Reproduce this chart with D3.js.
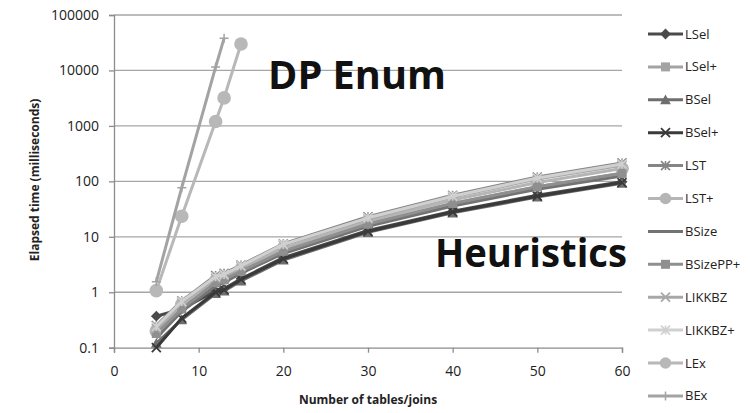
<!DOCTYPE html>
<html><head><meta charset="utf-8">
<script src="https://d3js.org/d3.v7.min.js"></script>
<style>body{margin:0;background:#fff}svg{display:block}</style>
</head><body><svg id="c" width="750" height="413"></svg>
<script>
const xTicks = [0, 10, 20, 30, 40, 50, 60];
const yTicks = [0.1, 1, 10, 100, 1000, 10000, 100000];
const yTickLabels = ["0.1", "1", "10", "100", "1000", "10000", "100000"];
const heurX = [5, 8, 12, 13, 15, 20, 30, 40, 50, 60];
const lselVals     = [0.37, 0.50, 1.05, 1.15, 1.75, 4.2, 13.0, 29, 56, 98];
const lselPlusVals = [0.20, 0.55, 1.50, 1.70, 2.40, 5.5, 17.0, 40, 80, 140];
const bselVals     = [0.12, 0.32, 0.95, 1.05, 1.60, 3.8, 12.0, 27, 52, 92];
const bselPlusVals = [0.10, 0.34, 1.00, 1.10, 1.70, 4.0, 12.5, 28, 54, 95];
const lstVals      = [0.25, 0.70, 2.00, 2.20, 3.10, 7.5, 23.0, 56, 120, 215];
const lstPlusVals  = [0.20, 0.60, 1.60, 1.80, 2.60, 6.2, 19.0, 46, 95, 170];
const bsizeVals    = [0.15, 0.45, 1.30, 1.50, 2.20, 5.0, 15.5, 36, 72, 125];
const bsizePPVals  = [0.18, 0.50, 1.50, 1.70, 2.40, 5.5, 17.0, 40, 80, 140];
const likkbzVals   = [0.22, 0.65, 1.80, 2.00, 2.90, 7.0, 21.0, 52, 110, 195];
const likkbzPVals  = [0.24, 0.68, 1.90, 2.10, 3.00, 7.3, 22.0, 54, 115, 205];
const lexX = [5, 8, 12, 13, 15];
const lexVals = [1.07, 23.5, 1200, 3200, 30000];
const bexX = [5, 8, 12, 13];
const bexVals = [1.55, 77, 11500, 38000];
const seriesNames = ["LSel","LSel+","BSel","BSel+","LST","LST+","BSize","BSizePP+","LIKKBZ","LIKKBZ+","LEx","BEx"];

const styles = {
  "LSel":{c:"#4a4a4a",m:"diamond"}, "LSel+":{c:"#a3a3a3",m:"square"},
  "BSel":{c:"#6e6e6e",m:"triangle"}, "BSel+":{c:"#3a3a3a",m:"x"},
  "LST":{c:"#858585",m:"asterisk"}, "LST+":{c:"#b5b5b5",m:"circle"},
  "BSize":{c:"#737373",m:"none"}, "BSizePP+":{c:"#8f8f8f",m:"square"},
  "LIKKBZ":{c:"#a8a8a8",m:"x"}, "LIKKBZ+":{c:"#d0d0d0",m:"asterisk"},
  "LEx":{c:"#b8b8b8",m:"circle"}, "BEx":{c:"#a3a3a3",m:"plus"}
};
const xsOf = {"LEx":lexX,"BEx":bexX};
const valsOf = {"LSel":lselVals,"LSel+":lselPlusVals,"BSel":bselVals,"BSel+":bselPlusVals,"LST":lstVals,"LST+":lstPlusVals,"BSize":bsizeVals,"BSizePP+":bsizePPVals,"LIKKBZ":likkbzVals,"LIKKBZ+":likkbzPVals,"LEx":lexVals,"BEx":bexVals};
const series = seriesNames.map(n => ({name:n, pts:(xsOf[n]||heurX).map((x,i)=>({x, y:valsOf[n][i]}))}));

const svg = d3.select("#c");
const x = d3.scaleLinear().domain([0,60]).range([114,622]);
const y = d3.scaleLog().domain([0.1,100000]).range([347.7,15]);
const font = "'Open Sans', sans-serif";

// gridlines
svg.append("g").selectAll("line").data(yTicks.slice(1)).join("line")
  .attr("x1",114).attr("x2",622).attr("y1",d=>y(d)).attr("y2",d=>y(d))
  .attr("stroke","#a6a6a6").attr("stroke-width",1.3);

// axes
const yAxis = svg.append("g").attr("transform","translate(114,0)")
  .call(d3.axisLeft(y).tickValues(yTicks).tickFormat((d,i)=>yTickLabels[i]).tickSize(5).tickPadding(10));
const xAxis = svg.append("g").attr("transform","translate(0,347.7)")
  .call(d3.axisBottom(x).tickValues(xTicks).tickFormat(d3.format("d")).tickSize(5).tickPadding(13));
[yAxis,xAxis].forEach(g=>{
  g.select(".domain").attr("stroke","#8c8c8c").attr("stroke-width",1.3);
  g.selectAll(".tick line").attr("stroke","#8c8c8c").attr("stroke-width",1.3);
  g.selectAll("text").attr("font-family",font).attr("font-size",14).attr("fill","#222");
});

// marker drawing
function marker(g, type, c, s){
  const r = s/2;
  if(type==="diamond") g.append("path").attr("d",`M0,${-r*1.2}L${r*1.2},0L0,${r*1.2}L${-r*1.2},0Z`).attr("fill",c);
  else if(type==="square") g.append("rect").attr("x",-r).attr("y",-r).attr("width",s).attr("height",s).attr("fill",c);
  else if(type==="triangle") g.append("path").attr("d",`M0,${-r*1.2}L${r*1.2},${r}L${-r*1.2},${r}Z`).attr("fill",c);
  else if(type==="circle") g.append("circle").attr("r",r*1.05).attr("fill",c);
  else if(type==="x") g.append("path").attr("d",`M${-r},${-r}L${r},${r}M${-r},${r}L${r},${-r}`).attr("stroke",c).attr("stroke-width",1.8);
  else if(type==="plus") g.append("path").attr("d",`M${-r},0L${r},0M0,${-r}L0,${r}`).attr("stroke",c).attr("stroke-width",1.5);
  else if(type==="asterisk") g.append("path").attr("d",`M${-r},${-r}L${r},${r}M${-r},${r}L${r},${-r}M0,${-r}L0,${r}`).attr("stroke",c).attr("stroke-width",1.6);
}

const line = d3.line().x(d=>x(d.x)).y(d=>y(d.y));
const plot = svg.append("g");
series.forEach(s=>{
  const st = styles[s.name];
  plot.append("path").datum(s.pts).attr("d",line).attr("fill","none")
    .attr("stroke",st.c).attr("stroke-width",3).attr("stroke-linejoin","round");
  if(st.m!=="none"){
    s.pts.forEach(p=>{
      const g = plot.append("g").attr("transform",`translate(${x(p.x)},${y(p.y)})`);
      marker(g, st.m, st.c, (st.m==="circle")?13:9);
    });
  }
});

// legend
const leg = svg.append("g");
seriesNames.forEach((n,i)=>{
  const st = styles[n];
  const ly = 34 + i*32.9;
  leg.append("line").attr("x1",648).attr("x2",683).attr("y1",ly).attr("y2",ly)
    .attr("stroke",st.c).attr("stroke-width",3);
  if(st.m!=="none"){
    const g = leg.append("g").attr("transform",`translate(665.5,${ly})`);
    marker(g, st.m, st.c, (st.m==="circle")?11:9);
  }
  leg.append("text").attr("x",685).attr("y",ly).attr("dy","0.35em")
    .attr("font-family",font).attr("font-size",13).attr("fill","#222").text(n);
});

// annotations
svg.append("text").attr("x",268).attr("y",89).attr("font-family",font)
  .attr("font-weight","bold").attr("font-size",40).attr("fill","#111")
  .attr("textLength",178).attr("lengthAdjust","spacingAndGlyphs").text("DP Enum");
svg.append("text").attr("x",435).attr("y",267).attr("font-family",font)
  .attr("font-weight","bold").attr("font-size",40).attr("fill","#111")
  .attr("textLength",192).attr("lengthAdjust","spacingAndGlyphs").text("Heuristics");

// axis titles
svg.append("text").attr("x",368).attr("y",404).attr("text-anchor","middle")
  .attr("font-family",font).attr("font-weight","bold").attr("font-size",12).attr("fill","#222")
  .text("Number of tables/joins");
svg.append("text").attr("transform","translate(39,180) rotate(-90)").attr("text-anchor","middle")
  .attr("font-family",font).attr("font-weight","bold").attr("font-size",12).attr("fill","#222")
  .text("Elapsed time (milliseconds)");
</script></body></html>
